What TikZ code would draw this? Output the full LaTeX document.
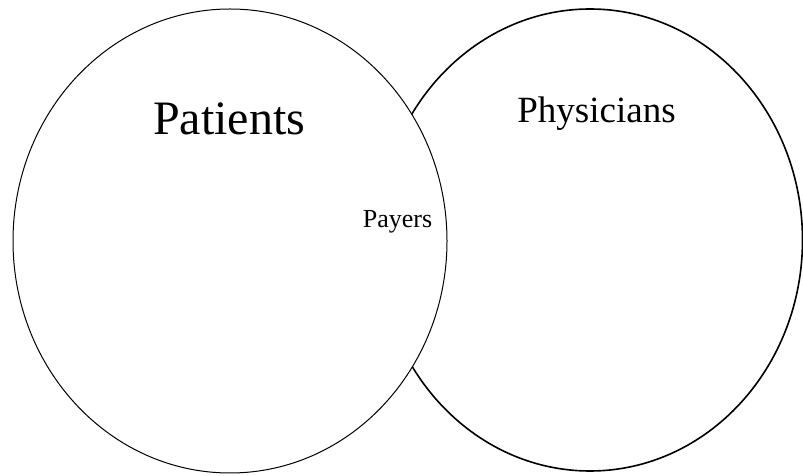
\documentclass[tikz,border=0pt]{standalone}
\usepackage{fontspec}
\setmainfont{Liberation Serif}
\begin{document}
\begin{tikzpicture}[x=1pt,y=1pt,
  setline/.style={draw=black},
  lbl/.style={anchor=base,inner sep=0pt}]
\useasboundingbox (0,0) rectangle (803,476);
\begin{scope}
\clip (0,0) rectangle (803,476);
% Physicians (behind)
\draw[setline,line width=1.6pt,fill=white] (590,236) ellipse [x radius=212.5, y radius=231];
% Patients (front)
\draw[setline,line width=1pt,fill=white] (230,235) ellipse [x radius=217, y radius=232];
\end{scope}
\node[lbl,font=\fontsize{48}{50}\selectfont] (patients) at (229,341) {Patients};
\node[lbl,font=\fontsize{37}{40}\selectfont] (physicians) at (596.5,353) {Physicians};
\node[lbl,font=\fontsize{26}{28}\selectfont] (payers) at (397.5,248) {Payers};
\end{tikzpicture}
\end{document}
